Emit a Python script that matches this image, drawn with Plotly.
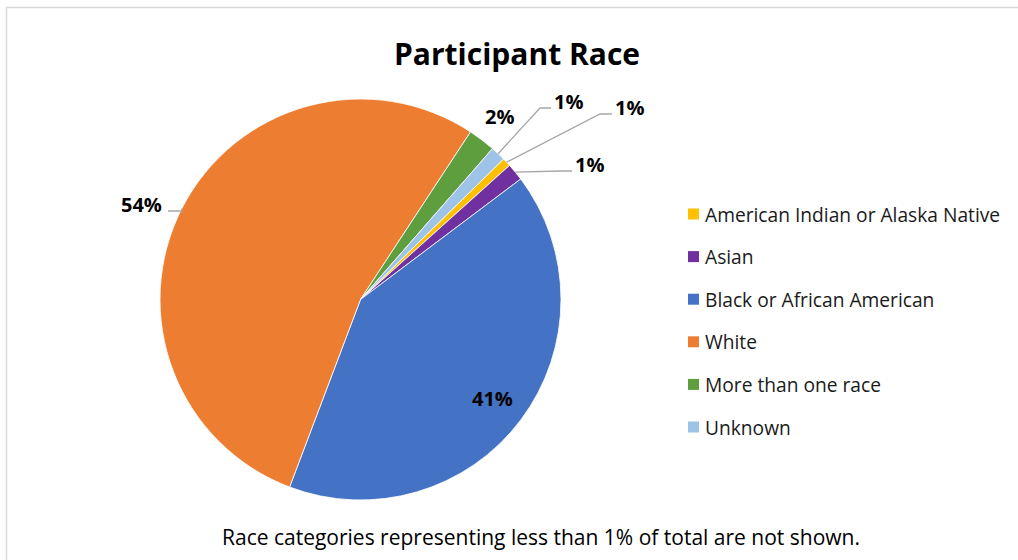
import math
import plotly.graph_objects as go

# ---- data ----
categories = ["American Indian or Alaska Native", "Asian", "Black or African American",
              "White", "More than one race", "Unknown"]
shares = [0.7, 1.4, 41.1, 53.6, 2.2, 1.2]
share_labels = ["1%", "1%", "41%", "54%", "2%", "1%"]
colors = ["#FFC000", "#7030A0", "#4472C4", "#ED7D31", "#5E9E3F", "#9DC3E6"]

title_text = "Participant Race"
note_text = "Race categories representing less than 1% of total are not shown."

# ---- layout constants (pixels) ----
W, H = 1018, 560
CX, CY, R = 360.5, 299.5, 200.5
ROTATION = 45.5  # start angle of first slice, clockwise from 12 o'clock
FONT = "Open Sans, DejaVu Sans"

def px(x):
    return x / W

def py(y):
    return 1 - y / H

fig = go.Figure()
fig.add_trace(go.Pie(
    labels=categories, values=shares, sort=False, direction="clockwise",
    rotation=ROTATION, textinfo="none", hoverinfo="label+percent",
    marker=dict(colors=colors, line=dict(color="white", width=0.8)),
    domain=dict(x=[px(CX - R), px(CX + R)], y=[py(CY + R), py(CY - R)]),
    showlegend=False,
))

# slice mid angles from data
total = sum(shares)
mids = []
acc = ROTATION
for v in shares:
    span = v / total * 360
    mids.append(acc + span / 2)
    acc += span

def edge(theta, r):
    t = math.radians(theta)
    return CX + r * math.sin(t), CY - r * math.cos(t)

shapes = []
annotations = []
font_lbl = dict(family=FONT, size=20, color="#000000")

# label placements: ('leader', elbow_x, elbow_y, end_x) or ('polar', r)
placements = {
    0: ("leader", 600, 114, 612),
    1: ("leader", 561, 171, 572),
    2: ("polar", 165),
    3: ("leader", 182, 211, 168),
    4: ("polar", 230),
    5: ("leader", 540, 108, 551),
}
for i, lab in enumerate(share_labels):
    p = placements[i]
    if p[0] == "polar":
        x, y = edge(mids[i], p[1])
        annotations.append(dict(x=px(x), y=py(y), xref="paper", yref="paper", text="<b>%s</b>" % lab,
                                showarrow=False, font=font_lbl, xanchor="center", yanchor="middle"))
    else:
        sx, sy = edge(mids[i], R)
        ex, ey, hx = p[1], p[2], p[3]
        shapes.append(dict(type="path", xref="paper", yref="paper",
                           path="M %f,%f L %f,%f L %f,%f" % (px(sx), py(sy), px(ex), py(ey), px(hx), py(ey)),
                           line=dict(color="#A6A6A6", width=1.3)))
        if hx > ex:
            annotations.append(dict(x=px(hx + 1), y=py(ey - 7), xref="paper", yref="paper",
                                    text="<b>%s</b>" % lab, showarrow=False, font=font_lbl,
                                    xanchor="left", yanchor="middle"))
        else:
            annotations.append(dict(x=px(hx - 4), y=py(ey - 7), xref="paper", yref="paper",
                                    text="<b>%s</b>" % lab, showarrow=False, font=font_lbl,
                                    xanchor="right", yanchor="middle"))

# manual legend
leg_y0, leg_dy = 214, 42.6
for i, (cat, col) in enumerate(zip(categories, colors)):
    y = leg_y0 + i * leg_dy
    shapes.append(dict(type="rect", xref="paper", yref="paper",
                       x0=px(688), x1=px(699), y0=py(y + 5.5), y1=py(y - 5.5),
                       fillcolor=col, line=dict(width=0)))
    annotations.append(dict(x=px(703), y=py(y), xref="paper", yref="paper", text=cat,
                            showarrow=False, xanchor="left", yanchor="middle",
                            font=dict(family=FONT, size=19.2, color="#1a1a1a")))

# frame
shapes.append(dict(type="path", xref="paper", yref="paper",
                   path="M %f,%f L %f,%f L %f,%f" % (px(6.5), py(560), px(6.5), py(7.5), px(1018), py(7.5)),
                   line=dict(color="#D9D9D9", width=1.5)))

# title and note
annotations.append(dict(x=px(517), y=py(53), xref="paper", yref="paper", text="<b>%s</b>" % title_text,
                        showarrow=False, xanchor="center", yanchor="middle",
                        font=dict(family=FONT, size=30, color="#000000")))
annotations.append(dict(x=px(541), y=py(537), xref="paper", yref="paper", text=note_text,
                        showarrow=False, xanchor="center", yanchor="middle",
                        font=dict(family=FONT, size=21, color="#000000")))

fig.update_layout(width=W, height=H, margin=dict(l=0, r=0, t=0, b=0),
                  paper_bgcolor="white", plot_bgcolor="white",
                  shapes=shapes, annotations=annotations, showlegend=False)

fig.write_html("out.html", config={"displayModeBar": False},
               post_script="document.body.style.margin='0';document.body.style.overflow='hidden';")
